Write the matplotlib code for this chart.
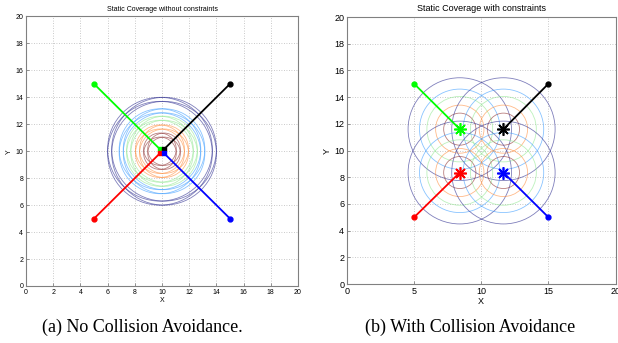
"""Cobertura estática: sin restricciones (a) y con evitación de colisiones (b)"""

import matplotlib.pyplot as plt
from matplotlib.patches import Circle

# agentes: color, posición inicial, posición final sin / con restricciones
agent_colors = ["#00ff00", "black", "red", "blue"]
start_x = [5, 15, 5, 15]
start_y = [15, 15, 5, 5]
end_free_x = [9.85, 10.15, 9.85, 10.15]
end_free_y = [10.15, 10.15, 9.85, 9.85]
end_cons_x = [8.4, 11.65, 8.4, 11.65]
end_cons_y = [11.6, 11.6, 8.35, 8.35]

# curvas de nivel de cobertura alrededor de cada agente
ring_radii = [1.2, 1.8, 2.45, 3.0, 3.85]
ring_colors = ["#8b2a2a", "#ff8c3a", "#8fe88f", "#3a9cff", "#2a2a8f"]

xticks_a = [0, 2, 4, 6, 8, 10, 12, 14, 16, 18, 20]
xticks_b = [0, 5, 10, 15, 20]
yticks = [0, 2, 4, 6, 8, 10, 12, 14, 16, 18, 20]

plt.rcParams["font.family"] = ["Liberation Sans", "DejaVu Sans"]

fig = plt.figure(figsize=(6.18, 3.43), dpi=100)
ax_a = fig.add_axes([0.0421, 0.1662, 0.4401, 0.7857])
ax_b = fig.add_axes([0.5615, 0.1720, 0.4345, 0.7784])


def setup(ax, title, xticks, fs):
    ax.set_xlim(0, 20)
    ax.set_ylim(0, 20)
    ax.set_xticks(xticks)
    ax.set_yticks(yticks)
    ax.grid(True, linestyle=(0, (1, 2)), color="#b8b8b8", linewidth=0.6)
    ax.set_axisbelow(True)
    ax.tick_params(direction="in", length=2, width=0.6, labelsize=fs,
                   color="#808080", pad=2)
    for spine in ax.spines.values():
        spine.set_color("#808080")
        spine.set_linewidth(0.8)
    ax.set_title(title, fontsize=fs, pad=4)
    ax.set_xlabel("X", fontsize=fs, labelpad=1)
    ax.set_ylabel("Y", fontsize=fs, labelpad=2)


def draw(ax, end_x, end_y, end_marker, end_size, end_mew):
    for cx, cy in zip(end_x, end_y):
        for r, c in zip(ring_radii, ring_colors):
            ax.add_patch(Circle((cx, cy), r, fill=False, edgecolor=c,
                                linewidth=0.6, alpha=0.6))
    for i, col in enumerate(agent_colors):
        ax.plot([start_x[i], end_x[i]], [start_y[i], end_y[i]], color=col, lw=1.3)
        ax.plot(start_x[i], start_y[i], "o", color=col, markersize=3.5)
        ax.plot(end_x[i], end_y[i], marker=end_marker, color=col,
                markersize=end_size, markeredgewidth=end_mew)


draw(ax_a, end_free_x, end_free_y, "s", 3.5, 1.0)
setup(ax_a, "Static Coverage without constraints", xticks_a, 5)

draw(ax_b, end_cons_x, end_cons_y, (8, 2, 0), 9, 1.2)
setup(ax_b, "Static Coverage with constraints", xticks_b, 6.5)

fig.text(0.231, 0.047, "(a) No Collision Avoidance.", family="Liberation Serif",
         fontsize=13, ha="center", va="center")
fig.text(0.761, 0.047, "(b) With Collision Avoidance", family="Liberation Serif",
         fontsize=13, ha="center", va="center")

plt.savefig("out.png", dpi=100)
plt.close()
